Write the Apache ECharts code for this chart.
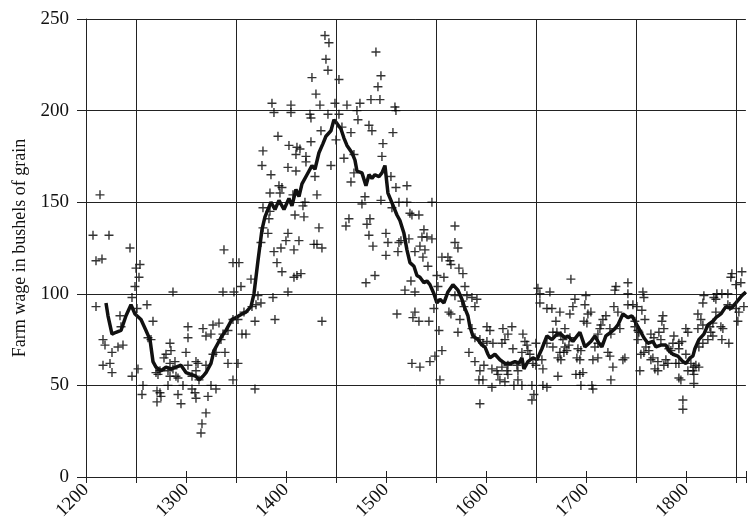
<!DOCTYPE html>
<html>
<head>
<meta charset="utf-8">
<script src="https://cdn.jsdelivr.net/npm/echarts@6/dist/echarts.min.js"></script>
<style>html,body{margin:0;padding:0;background:#fff}#c{width:748px;height:529px}</style>
</head>
<body>
<div id="c"></div>
<script>
// Annual wage observations (year, value)
const wageYears = [1207,1210,1210,1214,1216,1217,1217,1219,1223,1224,1226,1226,1232,1234,1235,1237,1244,1246,1246,1249,1250,1251,1252,1253,1254,1256,1257,1261,1262,1265,1267,1270,1271,1271,1272,1274,1274,1275,1278,1280,1282,1282,1284,1284,1284,1285,1287,1287,1289,1290,1292,1292,1295,1297,1300,1302,1302,1302,1306,1306,1309,1310,1310,1310,1312,1313,1315,1316,1317,1320,1320,1320,1322,1325,1325,1327,1327,1330,1330,1333,1335,1337,1337,1338,1339,1342,1342,1347,1347,1347,1348,1352,1352,1353,1355,1356,1358,1360,1365,1366,1369,1369,1370,1372,1375,1375,1376,1377,1377,1377,1382,1383,1384,1384,1385,1386,1387,1388,1388,1389,1391,1392,1393,1394,1395,1396,1396,1400,1402,1402,1402,1403,1405,1405,1407,1408,1408,1409,1410,1410,1411,1411,1413,1414,1415,1417,1418,1419,1420,1420,1424,1425,1425,1426,1428,1429,1430,1431,1431,1433,1434,1435,1436,1436,1439,1440,1442,1442,1443,1445,1449,1450,1453,1453,1456,1458,1460,1461,1463,1465,1465,1468,1468,1471,1472,1474,1476,1479,1480,1481,1483,1483,1484,1485,1486,1487,1489,1490,1492,1494,1495,1495,1496,1497,1500,1500,1502,1505,1506,1507,1509,1510,1510,1511,1512,1513,1513,1515,1519,1521,1521,1523,1524,1525,1526,1526,1527,1529,1529,1529,1533,1533,1534,1534,1536,1537,1538,1539,1541,1542,1543,1544,1546,1546,1548,1549,1551,1552,1553,1554,1556,1556,1558,1562,1563,1564,1565,1565,1569,1569,1569,1572,1572,1573,1574,1576,1577,1578,1579,1581,1583,1586,1586,1589,1589,1589,1591,1593,1594,1594,1594,1597,1597,1598,1601,1601,1604,1606,1606,1607,1611,1612,1614,1616,1616,1617,1619,1619,1621,1622,1622,1622,1626,1627,1628,1631,1632,1632,1636,1636,1637,1639,1641,1642,1644,1646,1646,1647,1648,1650,1650,1652,1654,1654,1656,1657,1657,1661,1661,1661,1664,1666,1667,1667,1670,1671,1672,1672,1674,1674,1675,1675,1677,1678,1679,1679,1681,1683,1684,1684,1685,1687,1689,1690,1691,1692,1694,1694,1695,1695,1697,1698,1699,1700,1701,1702,1705,1706,1707,1707,1709,1712,1712,1712,1714,1715,1717,1720,1722,1724,1724,1725,1725,1727,1728,1729,1730,1732,1734,1737,1739,1742,1742,1742,1747,1749,1749,1751,1752,1752,1753,1754,1755,1756,1757,1758,1758,1759,1760,1763,1765,1765,1767,1768,1769,1772,1772,1773,1775,1776,1777,1778,1778,1780,1782,1783,1785,1787,1788,1790,1793,1793,1793,1793,1795,1796,1797,1797,1800,1800,1802,1802,1805,1807,1808,1808,1808,1810,1812,1812,1813,1813,1815,1817,1817,1817,1818,1822,1824,1825,1827,1827,1828,1830,1830,1831,1835,1836,1836,1837,1842,1842,1843,1844,1845,1846,1850,1850,1852,1853,1855,1856,1858];
const wageValues = [132,118,93,154,119,75,61,72,132,62,68,57,71,88,82,72,125,98,55,104,114,92,59,109,116,45,50,94,76,75,85,57,47,41,56,58,46,44,65,67,58,50,73,62,55,69,101,59,63,55,54,45,40,50,68,82,76,61,55,48,46,63,58,43,62,53,24,29,81,77,61,35,44,78,50,83,67,68,48,84,75,101,78,124,68,80,62,117,86,53,101,86,62,117,104,78,90,78,108,93,85,48,94,99,95,128,170,178,147,136,133,141,155,145,165,204,98,199,123,86,117,186,159,155,125,158,112,129,101,133,169,181,203,199,154,124,109,143,176,167,180,110,129,179,111,148,142,150,175,172,198,196,183,218,127,164,209,154,127,136,203,189,125,85,241,228,222,198,237,170,204,184,217,198,191,174,137,203,141,188,161,176,166,200,195,204,149,153,106,138,192,132,141,206,189,126,110,232,213,206,219,151,175,182,133,121,128,164,147,188,202,200,158,89,123,150,128,129,102,159,150,130,144,107,143,62,87,123,101,90,143,85,126,60,131,120,135,124,131,115,85,63,150,130,92,66,110,104,80,53,120,69,109,120,90,118,116,89,137,128,99,125,79,114,86,96,111,93,104,99,68,98,81,93,76,63,97,53,75,58,40,73,53,61,82,74,80,59,49,73,58,56,53,73,60,81,75,52,58,78,61,56,82,70,50,61,58,53,68,50,78,74,72,69,67,50,42,62,45,73,61,103,100,95,64,59,50,92,73,49,101,92,79,71,85,79,65,55,90,68,77,64,75,68,81,71,69,72,89,76,108,93,97,56,65,70,64,56,69,50,57,85,94,99,84,89,90,50,64,48,71,78,73,65,81,83,86,88,68,81,66,78,53,60,93,102,104,90,81,64,65,106,100,94,94,85,82,93,80,75,79,58,67,91,101,98,68,86,71,69,78,64,65,76,59,63,58,79,75,85,88,81,61,64,62,70,69,73,77,62,73,70,62,54,53,74,42,37,81,67,79,58,62,58,60,56,51,61,89,81,71,60,86,95,83,73,99,75,82,79,84,77,98,97,90,100,82,100,75,81,100,94,73,93,109,111,105,92,85,90,106,112,93];
// Moving average (thick line)
const avgYears = [1220,1222,1226,1230,1235,1240,1245,1249,1255,1260,1264,1267,1270,1275,1280,1285,1290,1295,1297,1300,1305,1310,1313,1317,1320,1325,1328,1332,1336,1340,1346,1350,1356,1360,1365,1368,1372,1376,1379,1382,1385,1389,1393,1398,1403,1406,1410,1413,1416,1421,1426,1429,1433,1437,1440,1445,1448,1451,1455,1458,1461,1466,1469,1471,1476,1480,1483,1486,1489,1493,1496,1499,1502,1505,1508,1511,1514,1518,1521,1524,1528,1531,1534,1538,1541,1544,1548,1551,1554,1558,1562,1567,1572,1576,1579,1582,1584,1587,1592,1596,1599,1602,1604,1609,1614,1619,1625,1629,1633,1636,1638,1642,1647,1651,1656,1661,1666,1671,1675,1679,1682,1687,1694,1699,1705,1709,1713,1716,1720,1725,1729,1732,1737,1742,1746,1750,1754,1758,1762,1767,1770,1775,1780,1783,1787,1792,1797,1800,1804,1807,1809,1813,1818,1822,1827,1830,1835,1840,1845,1850,1856,1860];
const avgValues = [95,88,78,79,80,88,94,89,86,80,75,63,60,58,60,59,60,61,62,57,56,55,53,55,57,62,69,73,77,80,86,87,89,90,93,100,118,135,142,146,150,146,151,146,152,148,157,153,160,165,170,168,177,182,186,189,195,193,190,185,181,177,173,167,166,159,165,163,165,164,166,170,155,151,147,143,140,133,124,117,115,110,109,106,107,105,100,95,97,95,101,105,102,97,92,88,82,77,75,72,71,67,65,67,64,62,62,63,62,65,59,63,65,64,70,77,75,78,78,76,77,74,79,71,74,77,73,71,77,79,81,83,89,87,88,84,80,76,73,74,71,72,72,69,67,66,63,62,65,66,70,75,78,83,85,87,89,93,92,95,99,101];
const gridYears = [1250,1350,1450,1550,1650,1750,1850];
const yTicks = [0,50,100,150,200,250];

const serif = "'Liberation Serif','DejaVu Serif',serif";
const plusPath = 'path://M3.8,0h1.4v3.8h3.8v1.4h-3.8v3.8h-1.4v-3.8h-3.8v-1.4h3.8z';

const chart = echarts.init(document.getElementById('c'), null, {renderer:'canvas'});
chart.setOption({
  animation: false,
  backgroundColor: '#fff',
  grid: {left: 86, top: 19, width: 663, height: 458},
  xAxis: [{
    type: 'value', min: 1200, max: 1860, interval: 50, position: 'bottom',
    axisLine: {show: true, onZero: false, lineStyle: {color: '#222', width: 1}},
    axisTick: {show: true, length: 6, lineStyle: {color: '#222'}},
    splitLine: {show: false},
    axisLabel: {
      rotate: 45, margin: 10, fontFamily: serif, fontSize: 19, color: '#111',
      formatter: v => (v % 100 === 0 ? String(v) : '')
    }
  }, {
    type: 'value', min: 1200, max: 1860, interval: 50, position: 'bottom', offset: 0,
    axisLine: {show: false},
    axisTick: {show: true, inside: true, length: 6, lineStyle: {color: '#222'}},
    splitLine: {show: false},
    axisLabel: {show: false}
  }],
  yAxis: {
    type: 'value', min: yTicks[0], max: yTicks[yTicks.length - 1], interval: 50,
    axisLine: {show: true, lineStyle: {color: '#222', width: 1}},
    axisTick: {show: true, length: 9, lineStyle: {color: '#222'}},
    splitLine: {show: true, lineStyle: {color: '#222', width: 1}},
    axisLabel: {margin: 17, fontFamily: serif, fontSize: 19, color: '#111'},
    name: 'Farm wage in bushels of grain',
    nameLocation: 'middle', nameGap: 56, nameRotate: 90,
    nameTextStyle: {fontFamily: serif, fontSize: 18, color: '#111'}
  },
  series: [{
    type: 'scatter',
    data: wageYears.map((y, i) => [y, wageValues[i]]),
    symbol: plusPath, symbolSize: 9,
    itemStyle: {color: '#000'},
    markLine: {
      silent: true, symbol: ['none', 'none'], label: {show: false},
      lineStyle: {color: '#222', width: 1, type: 'solid'},
      data: gridYears.map(y => ({xAxis: y}))
    },
    z: 2
  }, {
    type: 'line',
    data: avgYears.map((y, i) => [y, avgValues[i]]),
    showSymbol: false, symbol: 'none',
    lineStyle: {color: '#111', width: 3.5},
    z: 3
  }]
});
</script>
</body>
</html>
